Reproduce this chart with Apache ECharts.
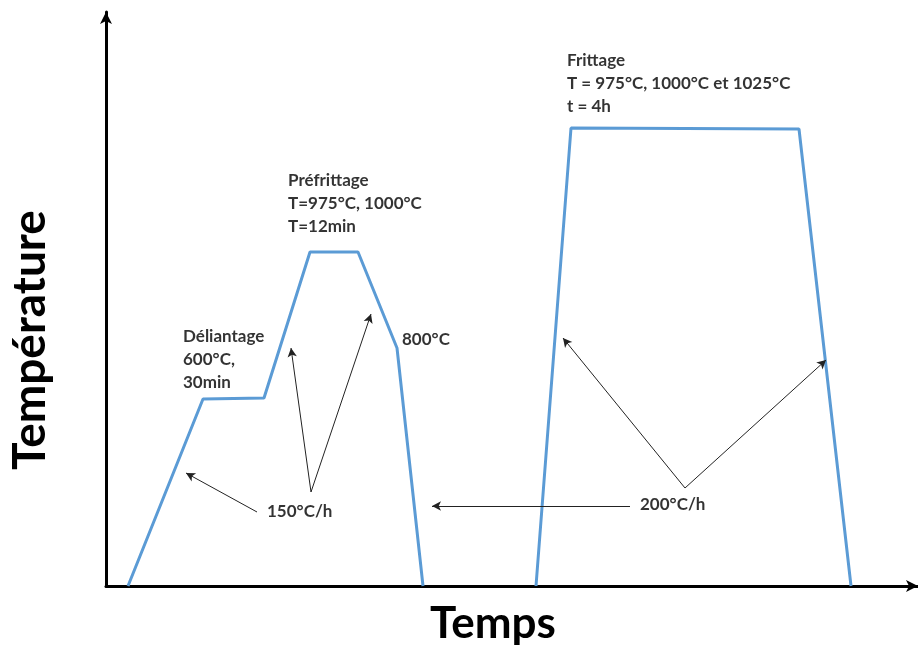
<!DOCTYPE html>
<html lang="fr">
<head>
	<meta charset="UTF-8">
	<title>Cycle thermique</title>
	<style>
	body, div {
		margin: 0;
		padding: 0;
	}
	#echart {
		width: 918px;
		height: 651px;
	}
	</style>
</head>
<body>
	<div id="echart"></div>

	<script src="https://cdn.jsdelivr.net/npm/echarts@6/dist/echarts.min.js"></script>

	<script>
	// schematic units (time / temperature, no real scale)
	var cycle1Time = [22, 97, 158, 204, 252, 291, 317];
	var cycle1Temp = [0, 187, 188, 334, 334, 238, 0];
	var cycle2Time = [430, 465, 693, 745];
	var cycle2Temp = [0, 458, 457, 0];

	// annotation arrows: [fromTime, fromTemp, toTime, toTemp]
	var arrows = [
		[151, 74, 80, 113],
		[205, 94, 185, 238],
		[205, 94, 265, 272],
		[524, 80, 326, 80],
		[579, 98, 457, 248],
		[579, 98, 720, 226]
	];

	// annotation texts: anchor at top-left of the block
	var notes = [
		{ pos: [182, 417], text: 'Préfrittage\nT=975°C, 1000°C\nT=12min' },
		{ pos: [77, 261], text: 'Déliantage\n600°C,\n30min' },
		{ pos: [296, 258], text: '800°C' },
		{ pos: [461, 537], text: 'Frittage\nT = 975°C, 1000°C et 1025°C\nt = 4h' },
		{ pos: [161, 86], text: '150°C/h' },
		{ pos: [534, 93], text: '200°C/h' }
	];

	var blue = '#5b9bd5';
	var font = 'Lato';

	function zip(xs, ys) {
		return xs.map(function (x, i) { return [x, ys[i]]; });
	}

	var myEchart = echarts.init(document.getElementById('echart'));

	var axisStyle = {
		type: 'value',
		splitLine: { show: false },
		axisTick: { show: false },
		axisLabel: { show: false },
		axisLine: {
			show: true,
			symbol: ['none', 'arrow'],
			symbolSize: [9, 12],
			lineStyle: { color: '#000', width: 3 }
		}
	};

	var option = {
		animation: false,
		grid: { left: 106, right: 0, top: 12, bottom: 65 },
		xAxis: Object.assign({}, axisStyle, { min: 0, max: 812 }),
		yAxis: Object.assign({}, axisStyle, { min: 0, max: 574 }),
		graphic: [
			{
				type: 'text',
				x: 493, y: 624,
				style: {
					text: 'Temps', fill: '#000',
					font: 'bold 44px ' + font,
					textAlign: 'center', textVerticalAlign: 'middle'
				}
			},
			{
				type: 'text',
				x: 30, y: 340,
				rotation: Math.PI / 2,
				style: {
					text: 'Température', fill: '#000',
					font: 'bold 46px ' + font,
					textAlign: 'center', textVerticalAlign: 'middle'
				}
			}
		],
		series: [
			{
				type: 'line',
				data: zip(cycle1Time, cycle1Temp),
				symbol: 'none',
				lineStyle: { color: blue, width: 3 }
			},
			{
				type: 'line',
				data: zip(cycle2Time, cycle2Temp),
				symbol: 'none',
				lineStyle: { color: blue, width: 3 },
				markLine: {
					silent: true,
					symbol: ['none', 'arrow'],
					symbolSize: [7, 9],
					label: { show: false },
					lineStyle: { color: '#222', width: 1, type: 'solid' },
					data: arrows.map(function (a) {
						return [{ coord: [a[0], a[1]] }, { coord: [a[2], a[3]] }];
					})
				}
			},
			{
				type: 'scatter',
				symbolSize: 0,
				silent: true,
				data: notes.map(function (n) {
					return { value: n.pos, label: { formatter: n.text } };
				}),
				label: {
					show: true,
					position: [0, 0],
					align: 'left',
					verticalAlign: 'top',
					color: '#000',
					fontFamily: font,
					fontWeight: 'bold',
					fontSize: 17,
					lineHeight: 23
				}
			}
		]
	};

	myEchart.setOption(option);
	</script>
</body>
</html>
